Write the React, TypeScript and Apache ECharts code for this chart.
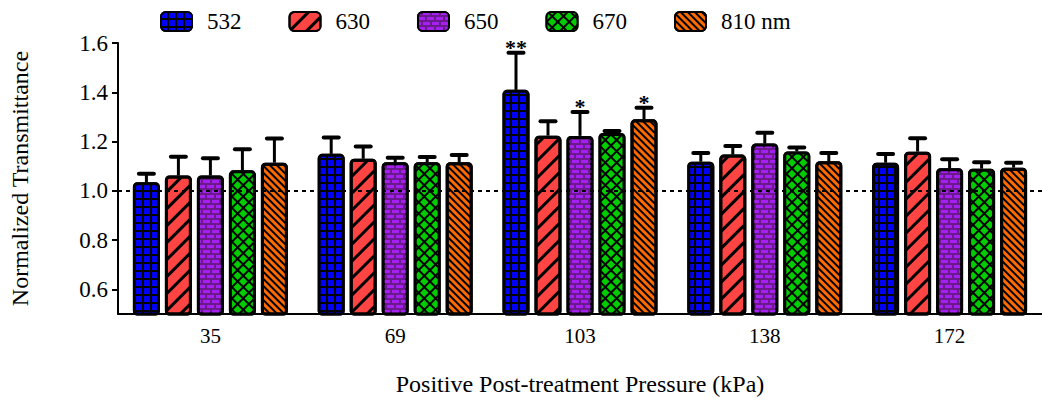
import React, { useEffect, useRef } from "react";
import * as echarts from "echarts";

const categories = ["35", "69", "103", "138", "172"];
const seriesNames = ["532", "630", "650", "670", "810 nm"];

const mean532 = [1.035, 1.15, 1.41, 1.118, 1.114];
const err532 = [0.034, 0.066, 0.15, 0.035, 0.035];
const mean630 = [1.062, 1.13, 1.224, 1.147, 1.159];
const err630 = [0.076, 0.05, 0.058, 0.035, 0.054];
const mean650 = [1.062, 1.116, 1.223, 1.192, 1.092];
const err650 = [0.07, 0.018, 0.097, 0.044, 0.036];
const mean670 = [1.083, 1.116, 1.235, 1.16, 1.09];
const err670 = [0.086, 0.021, 0.008, 0.016, 0.026];
const mean810 = [1.114, 1.116, 1.29, 1.12, 1.094];
const err810 = [0.098, 0.029, 0.047, 0.034, 0.02];

const sig532 = ["", "", "**", "", ""];
const sig630 = ["", "", "", "", ""];
const sig650 = ["", "", "*", "", ""];
const sig670 = ["", "", "", "", ""];
const sig810 = ["", "", "*", "", ""];

const yTicks = [0.6, 0.8, 1.0, 1.2, 1.4, 1.6];

const FONT = "Liberation Serif";
const BAR_W = 27;
const BAR_GAP_PX = 5;

const means = [mean532, mean630, mean650, mean670, mean810];
const errs = [err532, err630, err650, err670, err810];
const sigs = [sig532, sig630, sig650, sig670, sig810];

const fills = ["#000000", "#ff4444", "#6a1a8a", "#000000", "#ff6a00"];
const decals: any[] = [
  { symbol: "rect", symbolSize: 1, color: "#0000ff", dashArrayX: [6, 2], dashArrayY: [6, 2], rotation: 0 },
  { symbol: "rect", symbolSize: 1, color: "#000000", dashArrayX: [1, 0], dashArrayY: [3, 9], rotation: -Math.PI / 4 },
  { symbol: "rect", symbolSize: 1, color: "#a51ff0", dashArrayX: [[7, 2], [3, 2, 4, 0]], dashArrayY: [3, 2], rotation: 0 },
  { symbol: "rect", symbolSize: 1, color: "#00cc00", dashArrayX: [6, 2], dashArrayY: [6, 2], rotation: Math.PI / 4 },
  { symbol: "rect", symbolSize: 1, color: "#000000", dashArrayX: [1, 0], dashArrayY: [2, 3], rotation: Math.PI / 4 },
];

export default function App() {
  const ref = useRef<HTMLDivElement>(null);
  useEffect(() => {
    if (!ref.current) return;
    const chart = echarts.init(ref.current, null, { renderer: "svg" });
    const step = BAR_W + BAR_GAP_PX;

    const barSeries = seriesNames.map((name, s) => ({
      name,
      type: "bar",
      z: 2,
      barWidth: BAR_W,
      barGap: (BAR_GAP_PX / BAR_W) * 100 + "%",
      data: means[s],
      itemStyle: {
        color: fills[s],
        borderColor: "#000",
        borderWidth: 3,
        borderRadius: 3,
        decal: decals[s],
      },
    }));

    const errSeries = seriesNames.map((name, s) => ({
      name: "err" + s,
      type: "custom",
      z: 3,
      clip: false,
      data: categories.map((c, i) => [i, means[s][i], errs[s][i]]),
      renderItem: (params: any, api: any) => {
        const ci = api.value(0);
        const m = api.value(1);
        const e = api.value(2);
        const p0 = api.coord([ci, m]);
        const p1 = api.coord([ci, m + e]);
        const x = p0[0] + (s - 2) * step;
        const children: any[] = [
          { type: "line", shape: { x1: x, y1: p0[1], x2: x, y2: p1[1] }, style: { stroke: "#000", lineWidth: 3 } },
          { type: "line", shape: { x1: x - 7.5, y1: p1[1], x2: x + 7.5, y2: p1[1] }, style: { stroke: "#000", lineWidth: 4, lineCap: "round" } },
        ];
        const sg = sigs[s][params.dataIndex];
        if (sg) {
          children.push({
            type: "text",
            x,
            y: p1[1] - 5,
            style: { text: sg, align: "center", verticalAlign: "middle", font: `bold 22px ${FONT}`, fill: "#000" },
          });
        }
        return { type: "group", children };
      },
    }));

    chart.setOption({
      animation: false,
      legend: {
        data: seriesNames,
        left: 155,
        top: 5,
        itemWidth: 31,
        itemHeight: 19,
        itemGap: 47,
        icon: "roundRect",
        itemStyle: { borderColor: "#000", borderWidth: 2 },
        textStyle: { fontFamily: FONT, fontSize: 23, color: "#000", padding: [0, 0, 0, 10] },
      },
      grid: { left: 116, top: 43, width: 928, bottom: 83 },
      xAxis: {
        type: "category",
        data: categories,
        name: "Positive Post-treatment Pressure (kPa)",
        nameLocation: "middle",
        nameGap: 58,
        nameTextStyle: { fontFamily: FONT, fontSize: 24, color: "#000" },
        axisLine: { onZero: false, lineStyle: { color: "#000", width: 2 } },
        axisTick: { alignWithLabel: true, length: 6, lineStyle: { color: "#000", width: 2 } },
        axisLabel: { fontFamily: FONT, fontSize: 21, color: "#000", margin: 11 },
      },
      yAxis: {
        type: "value",
        min: 0.5,
        max: 1.6,
        name: "Normalized Transmittance",
        nameLocation: "middle",
        nameGap: 86,
        nameTextStyle: { fontFamily: FONT, fontSize: 24, color: "#000" },
        axisLine: { show: true, lineStyle: { color: "#000", width: 2 } },
        axisTick: { show: true, length: 6, customValues: yTicks, lineStyle: { color: "#000", width: 2 } },
        axisLabel: { customValues: yTicks, fontFamily: FONT, fontSize: 23, color: "#000", margin: 10, formatter: (v: number) => v.toFixed(1) },
        splitLine: { show: false },
      },
      series: [
        {
          name: "ref",
          type: "line",
          z: 1,
          data: [],
          markLine: {
            silent: true,
            symbol: "none",
            label: { show: false },
            lineStyle: { color: "#000", type: [4, 4], width: 2 },
            data: [{ yAxis: 1.0 }],
          },
        },
        ...barSeries,
        ...errSeries,
      ],
    });
    return () => chart.dispose();
  }, []);
  return <div ref={ref} style={{ position: "absolute", left: 0, top: 0, width: 1042, height: 401 }} />;
}
